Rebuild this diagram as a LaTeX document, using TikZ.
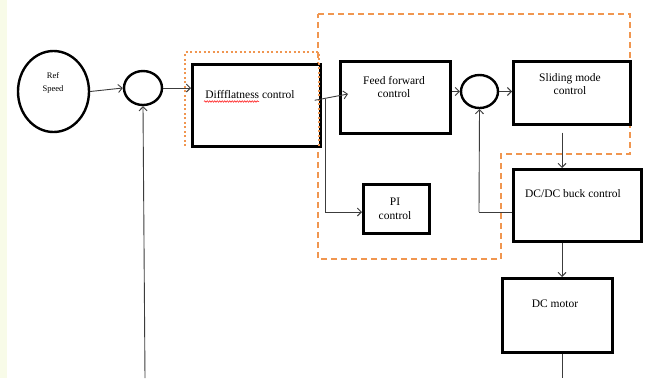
\documentclass[tikz,border=0pt]{standalone}
\usepackage{fontspec}
\setmainfont{Liberation Serif}
\usetikzlibrary{arrows.meta,decorations.pathmorphing,calc,shapes.geometric}
\definecolor{orng}{RGB}{240,150,80}
\definecolor{lineg}{RGB}{60,60,60}
\definecolor{edgey}{RGB}{248,251,232}
\tikzset{
  blk/.style={draw=black, line width=2.6pt, fill=white, inner sep=0pt, anchor=north west},
  sumc/.style={draw=black, line width=2.4pt, ellipse, inner sep=0pt},
  conn/.style={draw=lineg, line width=0.9pt, -{Straight Barb[length=4pt,width=8pt,line width=0.9pt]}},
  plain/.style={draw=lineg, line width=0.9pt},
  lbl/.style={font=\fontsize{11.5}{13.5}\selectfont, align=center, inner sep=0pt},
  dashbox/.style={draw=orng, line width=1.4pt, dash pattern=on 6pt off 4pt},
  dotbox/.style={draw=orng, line width=2.4pt, dash pattern=on 2pt off 2.5pt},
  squig/.style={draw=red, line width=0.5pt, decorate, decoration={snake, amplitude=0.8pt, segment length=2.5pt}},
}
\begin{document}
\begin{tikzpicture}[x=1pt,y=-1pt]
\useasboundingbox (0,0) rectangle (648,378);
\fill[edgey] (0,0) rectangle (7,378);
\fill[white] (7,0) rectangle (648,378);
% orange regions
\draw[dashbox] (318,14) -- (630,14) -- (630,154) -- (501,154) -- (501,259) -- (318,259) -- cycle;
% ref speed
\node[draw=black, line width=2.4pt, ellipse, minimum width=71pt, minimum height=81pt, inner sep=0pt] (ref) at (53.5,91.5) {};
\node[font=\fontsize{8.5}{12.5}\selectfont, align=center, inner sep=0pt] (reft) at (53,83) {Ref\\Speed};
% summing junction 1
\node[sumc, minimum width=38pt, minimum height=34pt] (s1) at (143,88) {};
% diffflatness
\node[blk, minimum width=128pt, minimum height=82pt] (diff) at (191,63) {};
\draw[dotbox] (185,146) -- (185,52) -- (319,52) -- (319,146);
\node[lbl] (difft) at (250,95) {Diffflatness control};
\draw[squig] (204,101.5) -- (259,101.5);
% feed forward
\node[blk, minimum width=110pt, minimum height=72pt] (ff) at (339,60) {};
\node[lbl] (fft) at (394,87) {Feed forward\\control};
% PI
\node[blk, minimum width=66pt, minimum height=49pt] (pi) at (362,183) {};
\node[lbl] (pit) at (395,209) {PI\\control};
% summing junction 2
\node[sumc, minimum width=37pt, minimum height=33pt] (s2) at (479.5,91.5) {};
% sliding mode
\node[blk, minimum width=117pt, minimum height=63pt] (sm) at (512,60) {};
\node[lbl] (smt) at (570,84) {Sliding mode\\control};
% DC/DC
\node[blk, minimum width=128pt, minimum height=72pt] (buck) at (512,168) {};
\node[lbl] (buckt) at (573,194) {DC/DC buck control};
% DC motor
\node[blk, minimum width=110pt, minimum height=74pt] (mot) at (501,277) {};
\node[lbl] (mott) at (555,304) {DC motor};
% coordinates
\coordinate (fbbot) at (145,378);
\coordinate (motend) at (562,378);
\coordinate (tap) at (325,99);
\coordinate (fb2) at (479,212);
% connectors
\draw[conn] (ref.east) -- (s1.west);
\draw[conn] (s1.east) -- (diff.west |- s1.east);
\draw[conn] ([xshift=-7pt,yshift=5pt]diff.east) -- ([xshift=9pt]ff.west |- 0,94);
\draw[plain] (tap) -- (tap);
\draw[conn] (fbbot) -- (s1.south);
\draw[conn] (tap) |- (pi.west |- 0,212);
\draw[conn] (ff.east |- s2.west) -- (s2.west);
\draw[conn] (s2.east) -- (sm.west |- s2.east);
\draw[conn] ([yshift=-7pt]sm.south -| 562,0) -- (buck.north -| 562,0);
\draw[plain] (buck.west |- fb2) -- (fb2);
\draw[conn] (fb2) -- (s2.south);
\draw[conn] (buck.south -| 562,0) -- (mot.north -| 562,0);
\draw[plain] (mot.south -| 562,0) -- (motend);
\end{tikzpicture}
\end{document}
